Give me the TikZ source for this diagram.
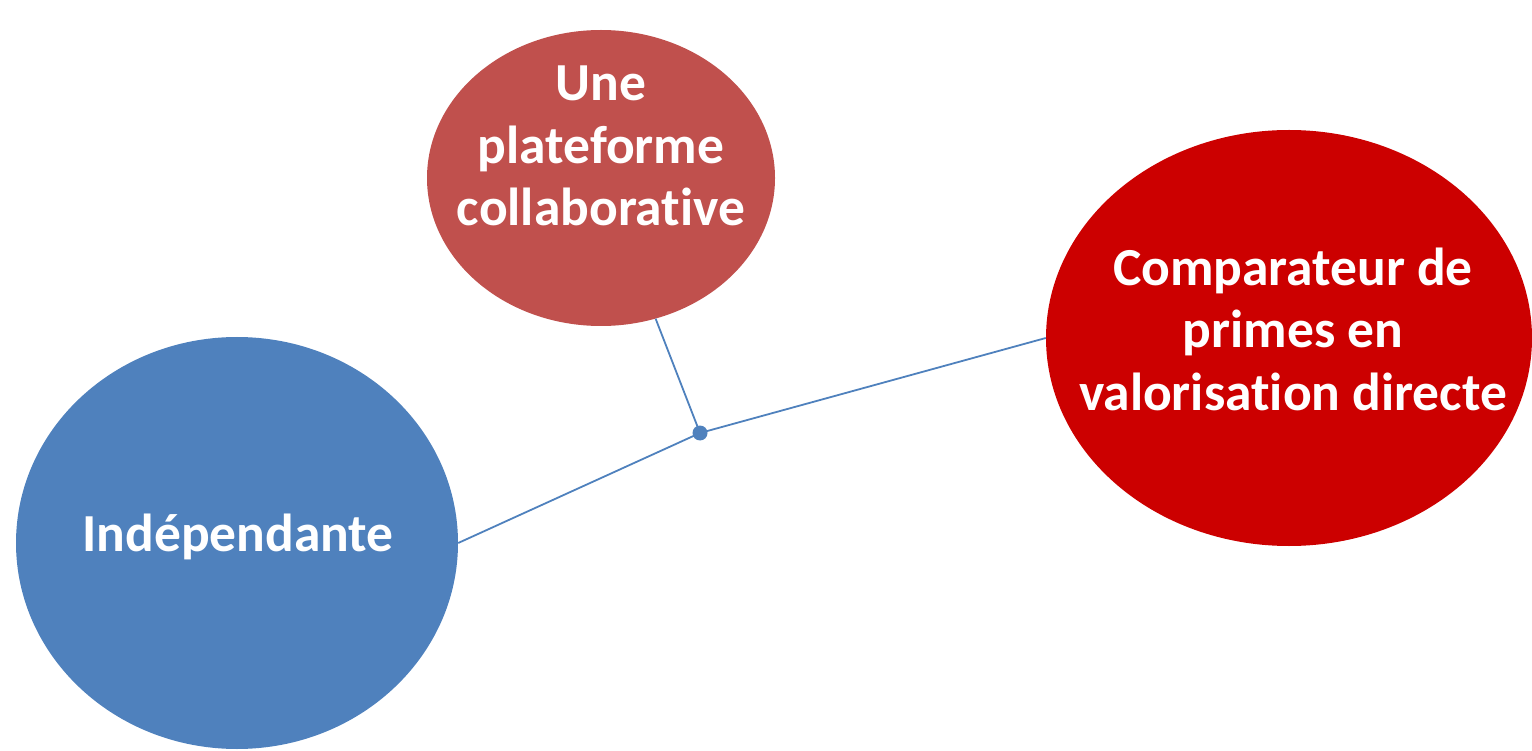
\documentclass[tikz,border=0pt]{standalone}
\usepackage{fontspec}
\setmainfont[Ligatures={NoCommon}]{Carlito}
\usetikzlibrary{shapes.geometric}
\definecolor{cblue}{HTML}{4F81BD}
\definecolor{cbrown}{HTML}{C0504D}
\definecolor{cred}{HTML}{CC0000}
\tikzset{
  bubble/.style={ellipse, draw=none, inner sep=0pt},
  btext/.style={text=white, align=center, font=\fontsize{53.5}{62.5}\selectfont\bfseries, inner sep=0pt},
  conn/.style={draw=cblue, line width=1.8pt}
}
\begin{document}
\begin{tikzpicture}[x=1pt,y=-1pt]
\useasboundingbox (0,0) rectangle (1532,751);
\node[bubble, fill=cblue, minimum width=442pt, minimum height=412pt] (ind) at (237,543) {};
\node[bubble, fill=cbrown, minimum width=348pt, minimum height=296pt] (col) at (601,178) {};
\node[bubble, fill=cred, minimum width=486pt, minimum height=416pt] (cmp) at (1289,338) {};
\node[btext] (tind) at (238,537) {Indépendante};
\node[btext] (tcol) at (601,146) {Une\\plateforme\\collaborative};
\node[btext] (tcmp) at (1293,329) {Comparateur de\\primes en\\valorisation directe};
\coordinate (hub) at (700,433);
\draw[conn] (ind.east) -- (hub);
\draw[conn] (hub) -- (cmp.west);
\draw[conn] (hub) -- (col);
\fill[cblue] (hub) circle (7.5pt);
\end{tikzpicture}
\end{document}
